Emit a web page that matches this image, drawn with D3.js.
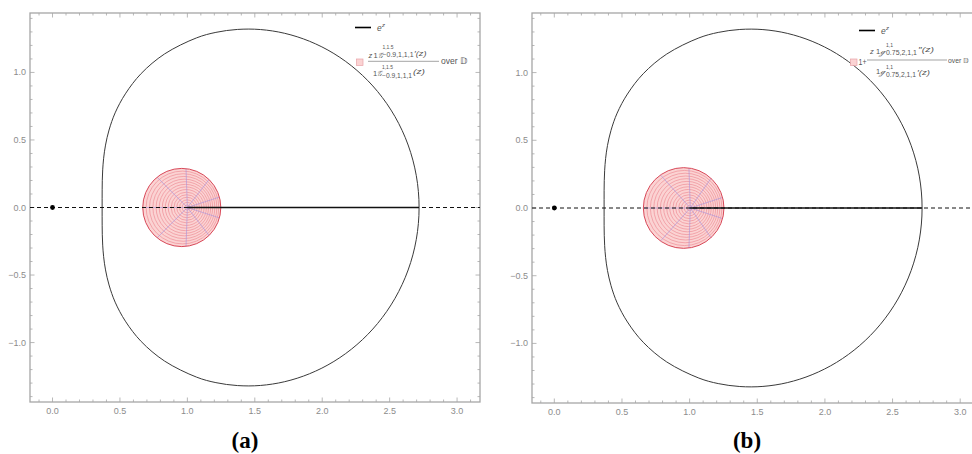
<!DOCTYPE html>
<html>
<head>
<meta charset="utf-8">
<script src="https://cdn.jsdelivr.net/npm/d3@7/dist/d3.min.js"></script>
<style>
  html, body { margin: 0; padding: 0; background: #fff; }
  svg { display: block; }
</style>
</head>
<body>
<svg id="chart" width="972" height="454" font-family="'Liberation Sans', Arial, sans-serif"></svg>
<script>
// ---------------- data ----------------
const xTickValues = [0, 0.5, 1, 1.5, 2, 2.5, 3];
const xTickLabels = ["0.0", "0.5", "1.0", "1.5", "2.0", "2.5", "3.0"];
const yTickValues = [-1, -0.5, 0, 0.5, 1];
const yTickLabels = ["\u22121.0", "\u22120.5", "0.0", "0.5", "1.0"];

// boundary of e^z over the unit disk
const boundaryX = [2.7183, 2.6977, 2.6371, 2.5398, 2.4110, 2.2574, 2.0864, 1.9056, 1.7219, 1.5418, 1.3708, 1.2115, 1.0682, 0.8306, 0.6571, 0.5403, 0.4643, 0.4191, 0.3930, 0.3790, 0.3721, 0.3691, 0.3681, 0.3679, 0.3679,
                   0.3679, 0.3681, 0.3691, 0.3721, 0.3790, 0.3930, 0.4191, 0.4643, 0.5403, 0.6571, 0.8306, 1.0682, 1.2115, 1.3708, 1.5418, 1.7219, 1.9056, 2.0864, 2.2574, 2.4110, 2.5398, 2.6371, 2.6977];
const boundaryY = [0, 0.2357, 0.4626, 0.6724, 0.8583, 1.0152, 1.1398, 1.2309, 1.2896, 1.3175, 1.3183, 1.2966, 1.2559, 1.1367, 0.9916, 0.8415, 0.7007, 0.5735, 0.4620, 0.3645, 0.2786, 0.2017, 0.1310, 0.0645, 0,
                   -0.0645, -0.1310, -0.2017, -0.2786, -0.3645, -0.4620, -0.5735, -0.7007, -0.8415, -0.9916, -1.1367, -1.2559, -1.2966, -1.3183, -1.3175, -1.2896, -1.2309, -1.1398, -1.0152, -0.8583, -0.6724, -0.4626, -0.2357];

// real-axis segment drawn solid, origin dot
const segmentX = [1.0, 2.7183];
const originPoint = [0, 0];

// image regions: mesh rings (left / right real intercepts) and spoke end points
const ringLeftA  = [0.981, 0.961, 0.942, 0.921, 0.901, 0.880, 0.858, 0.836, 0.814, 0.791, 0.768, 0.744, 0.719, 0.694, 0.669];
const ringRightA = [1.019, 1.037, 1.055, 1.073, 1.090, 1.107, 1.124, 1.141, 1.157, 1.173, 1.188, 1.204, 1.219, 1.233, 1.248];
const spokeXA = [1.248, 1.238, 1.161, 0.990, 0.775, 0.668, 0.775, 0.990, 1.161, 1.238];
const spokeYA = [0, 0.077, 0.207, 0.288, 0.225, 0, -0.225, -0.288, -0.207, -0.077];
const spokeCenterA = [1.0, 0];

const ringLeftB  = [0.980, 0.960, 0.940, 0.919, 0.897, 0.876, 0.853, 0.831, 0.808, 0.784, 0.760, 0.735, 0.710, 0.684, 0.658];
const ringRightB = [1.019, 1.038, 1.056, 1.075, 1.092, 1.110, 1.127, 1.144, 1.160, 1.177, 1.193, 1.208, 1.224, 1.239, 1.254];
const spokeXB = [1.254, 1.244, 1.158, 0.995, 0.785, 0.658, 0.785, 0.995, 1.158, 1.244];
const spokeYB = [0, 0.078, 0.219, 0.295, 0.244, 0, -0.244, -0.295, -0.219, -0.078];
const spokeCenterB = [1.005, 0];

// ---------------- drawing ----------------
const svg = d3.select("#chart");
const defs = svg.append("defs");

function drawPanel(cfg) {
  const x = d3.scaleLinear().domain(cfg.xDomain).range(cfg.xRange);
  const y = d3.scaleLinear().domain([-1.44, 1.44]).range(cfg.yRange);
  const g = svg.append("g");
  const clipId = "clip" + cfg.id;
  defs.append("clipPath").attr("id", clipId).append("rect")
    .attr("x", cfg.xRange[0]).attr("y", cfg.yRange[1])
    .attr("width", cfg.xRange[1] - cfg.xRange[0]).attr("height", cfg.yRange[0] - cfg.yRange[1]);

  const frameColor = "#a6a6a6";
  const x0 = cfg.xRange[0], x1 = cfg.xRange[1], yT = cfg.yRange[1], yB = cfg.yRange[0];

  // minor / major ticks (inward) on all sides
  const ticksG = g.append("g").attr("stroke", frameColor).attr("stroke-width", 0.8);
  const xMinor = d3.range(-1, 32).map(i => i / 10);
  const yMinor = d3.range(-14, 15).map(i => i / 10);
  xMinor.forEach(v => {
    const major = Math.abs(v * 2 - Math.round(v * 2)) < 1e-6;
    const len = major ? 4.5 : 2.5;
    const px = x(v);
    if (px < x0 || px > x1) return;
    ticksG.append("line").attr("x1", px).attr("x2", px).attr("y1", yB).attr("y2", yB - len);
    ticksG.append("line").attr("x1", px).attr("x2", px).attr("y1", yT).attr("y2", yT + len);
  });
  yMinor.forEach(v => {
    const major = Math.abs(v * 2 - Math.round(v * 2)) < 1e-6;
    const len = major ? 4.5 : 2.5;
    const py = y(v);
    ticksG.append("line").attr("y1", py).attr("y2", py).attr("x1", x0).attr("x2", x0 + len);
    ticksG.append("line").attr("y1", py).attr("y2", py).attr("x1", x1).attr("x2", x1 - len);
  });

  // frame
  g.append("rect").attr("x", x0).attr("y", yT).attr("width", x1 - x0).attr("height", yB - yT)
    .attr("fill", "none").attr("stroke", frameColor).attr("stroke-width", 1.3);

  // tick labels
  xTickValues.forEach((v, i) => {
    g.append("text").attr("x", x(v)).attr("y", yB + 12).attr("text-anchor", "middle")
      .attr("font-size", 9).attr("fill", "#8c8c8c").text(xTickLabels[i]);
  });
  yTickValues.forEach((v, i) => {
    g.append("text").attr("x", x0 - 4).attr("y", y(v) + 3).attr("text-anchor", "end")
      .attr("font-size", 9).attr("fill", "#8c8c8c").text(yTickLabels[i]);
  });

  const plot = g.append("g").attr("clip-path", `url(#${clipId})`);

  // e^z boundary
  const pts = boundaryX.map((bx, i) => [bx, boundaryY[i]]);
  plot.append("path").datum(pts)
    .attr("d", d3.line().x(d => x(d[0])).y(d => y(d[1])).curve(d3.curveCatmullRomClosed.alpha(0.5)))
    .attr("fill", "none").attr("stroke", "#3a3a3a").attr("stroke-width", 1);

  // image region: fill + mesh rings
  const rl = cfg.ringLeft, rr = cfg.ringRight;
  const n = rl.length;
  const outerCx = (rl[n - 1] + rr[n - 1]) / 2, outerR = (rr[n - 1] - rl[n - 1]) / 2;
  plot.append("ellipse").attr("cx", x(outerCx)).attr("cy", y(0))
    .attr("rx", x(outerCx + outerR) - x(outerCx)).attr("ry", y(0) - y(outerR))
    .attr("fill", "#fbd3d3").attr("stroke", "none");
  rl.forEach((l, i) => {
    if (i === n - 1) return;
    const cx = (l + rr[i]) / 2, r = (rr[i] - l) / 2;
    plot.append("ellipse").attr("cx", x(cx)).attr("cy", y(0))
      .attr("rx", x(cx + r) - x(cx)).attr("ry", y(0) - y(r))
      .attr("fill", "none").attr("stroke", "#ee8e96").attr("stroke-width", 0.7);
  });
  // spokes
  cfg.spokeX.forEach((sx, i) => {
    plot.append("line").attr("x1", x(cfg.spokeCenter[0])).attr("y1", y(cfg.spokeCenter[1]))
      .attr("x2", x(sx)).attr("y2", y(cfg.spokeY[i]))
      .attr("stroke", "#a894dc").attr("stroke-opacity", 0.8).attr("stroke-width", 0.8);
  });
  // outer boundary of region
  plot.append("ellipse").attr("cx", x(outerCx)).attr("cy", y(0))
    .attr("rx", x(outerCx + outerR) - x(outerCx)).attr("ry", y(0) - y(outerR))
    .attr("fill", "none").attr("stroke", "#d84858").attr("stroke-width", 1);

  // dashed real axis
  plot.append("line").attr("x1", x0).attr("x2", x1).attr("y1", y(0)).attr("y2", y(0))
    .attr("stroke", "#111").attr("stroke-width", 1).attr("stroke-dasharray", "4,3");
  // solid segment
  plot.append("line").attr("x1", x(segmentX[0])).attr("x2", x(segmentX[1])).attr("y1", y(0)).attr("y2", y(0))
    .attr("stroke", "#111").attr("stroke-width", 1.4);
  // origin dot
  plot.append("circle").attr("cx", x(originPoint[0])).attr("cy", y(originPoint[1])).attr("r", 2.4).attr("fill", "#000");

  // panel label
  svg.append("text").attr("x", cfg.labelX).attr("y", 448).attr("text-anchor", "middle")
    .style("font-family", "'Liberation Serif', 'DejaVu Serif', serif")
    .attr("font-size", 23).attr("font-weight", "bold").attr("fill", "#000")
    .text(`(${cfg.label})`);

  // legend: e^z line
  const lg = svg.append("g");
  lg.append("line").attr("x1", cfg.legLineX).attr("x2", cfg.legLineX + 16).attr("y1", cfg.legLineY).attr("y2", cfg.legLineY)
    .attr("stroke", "#000").attr("stroke-width", 1.6);
  lg.append("text").attr("x", cfg.legLineX + 22).attr("y", cfg.legLineY + 3).attr("font-size", 8.5)
    .attr("font-style", "italic").attr("fill", "#555").text("e");
  lg.append("text").attr("x", cfg.legLineX + 27).attr("y", cfg.legLineY - 1).attr("font-size", 6)
    .attr("font-style", "italic").attr("fill", "#555").text("z");
  // legend square
  lg.append("rect").attr("x", cfg.legSqX).attr("y", 59).attr("width", 6.5).attr("height", 6.5)
    .attr("fill", "#fbd3d3").attr("stroke", "#e9a3a8").attr("stroke-width", 0.7);
  cfg.legendTexts.forEach(t => {
    const el = lg.append("text").attr("x", t[0]).attr("y", t[1]).attr("font-size", t[3])
      .attr("fill", "#555").text(t[2]);
    if (t[4]) el.attr("font-style", "italic");
    if (t[5]) el.attr("textLength", t[5]).attr("lengthAdjust", "spacingAndGlyphs");
  });
  lg.append("line").attr("x1", cfg.barX[0]).attr("x2", cfg.barX[1]).attr("y1", cfg.barY).attr("y2", cfg.barY)
    .attr("stroke", "#666").attr("stroke-width", 0.6);
}

drawPanel({
  id: "a", label: "a", labelX: 245,
  xDomain: [-0.167, 3.17], xRange: [30, 480], yRange: [402, 13],
  ringLeft: ringLeftA, ringRight: ringRightA,
  spokeX: spokeXA, spokeY: spokeYA, spokeCenter: spokeCenterA,
  legLineX: 355, legLineY: 27.5, legSqX: 356.5,
  barX: [368, 439], barY: 61.3,
  legendTexts: [
    [368.5, 57.5, "z", 7.5, true],
    [373.5, 57.5, "1", 7.5],
    [377.5, 57.5, "\uD835\uDCA2", 7.5, true, 4.5],
    [382.5, 49, "1,1.5", 6, false, 11],
    [382.5, 57, "\u22120.9,1,1,1", 6.5, false, 31],
    [414, 55.5, "\u2032(z)", 6.5, true, 12.5],
    [441, 64, "over \uD835\uDD3B", 8.5, false, 26],
    [373, 75.5, "1", 7.5],
    [377, 75.5, "\uD835\uDCA2", 7.5, true, 4.5],
    [382, 69, "1,1.5", 6, false, 11],
    [382, 77.5, "\u22120.9,1,1,1", 6.5, false, 30],
    [413, 74, "(z)", 6.5, true, 12]
  ]
});

drawPanel({
  id: "b", label: "b", labelX: 747,
  xDomain: [-0.165, 3.17], xRange: [532, 983.2], yRange: [403, 13],
  ringLeft: ringLeftB, ringRight: ringRightB,
  spokeX: spokeXB, spokeY: spokeYB, spokeCenter: spokeCenterB,
  legLineX: 859, legLineY: 30.5, legSqX: 850.5,
  barX: [867, 947], barY: 60,
  legendTexts: [
    [858.5, 65, "1+", 8.5, false, 8],
    [870, 54, "z", 7.5, true],
    [876, 54, "1", 7.5],
    [880, 54, "\u210A", 7.5, true, 4.5],
    [886, 47, "1,1", 6, false, 7],
    [886, 55, "0.75,2,1,1", 6.5, false, 31],
    [918, 51.5, "\u2033(z)", 6.5, true, 16],
    [948, 63, "over \uD835\uDD3B", 7, false, 21],
    [876, 74, "1", 7.5],
    [880, 74, "\u210A", 7.5, true, 4.5],
    [886, 68.5, "1,1", 6, false, 7],
    [886, 77, "0.75,2,1,1", 6.5, false, 30],
    [917, 75, "\u2032(z)", 6.5, true, 13]
  ]
});
</script>
</body>
</html>
